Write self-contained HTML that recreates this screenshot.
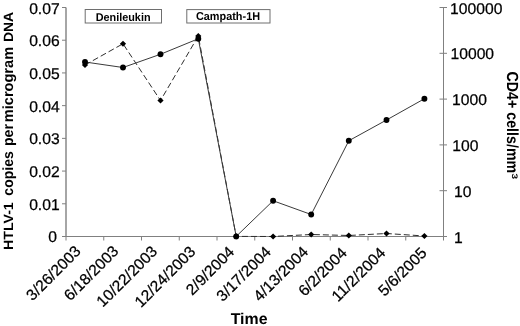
<!DOCTYPE html><html><head><meta charset="utf-8"><title>chart</title><style>html,body{margin:0;padding:0;background:#fff}svg{display:block}text{font-family:"Liberation Sans",Arial,sans-serif;fill:#000;text-rendering:geometricPrecision}.r{stroke:#000;stroke-width:0.25px}</style></head><body>
<svg width="520" height="326" viewBox="0 0 520 326">
<rect width="520" height="326" fill="#fff"/>
<g stroke="#808080" stroke-width="1" fill="none" shape-rendering="auto">
<line x1="66.0" y1="7.5" x2="66.0" y2="236.5" stroke-width="1.4"/>
<line x1="443.5" y1="7.5" x2="443.5" y2="236.5"/>
<line x1="62.0" y1="236.5" x2="447.0" y2="236.5"/>
<line x1="62.0" y1="7.50" x2="66.0" y2="7.50"/>
<line x1="62.0" y1="40.21" x2="66.0" y2="40.21"/>
<line x1="62.0" y1="72.93" x2="66.0" y2="72.93"/>
<line x1="62.0" y1="105.64" x2="66.0" y2="105.64"/>
<line x1="62.0" y1="138.36" x2="66.0" y2="138.36"/>
<line x1="62.0" y1="171.07" x2="66.0" y2="171.07"/>
<line x1="62.0" y1="203.79" x2="66.0" y2="203.79"/>
<line x1="439.5" y1="7.50" x2="447.0" y2="7.50"/>
<line x1="439.5" y1="53.30" x2="447.0" y2="53.30"/>
<line x1="439.5" y1="99.10" x2="447.0" y2="99.10"/>
<line x1="439.5" y1="144.90" x2="447.0" y2="144.90"/>
<line x1="439.5" y1="190.70" x2="447.0" y2="190.70"/>
<line x1="66.00" y1="236.5" x2="66.00" y2="240.5"/>
<line x1="103.75" y1="236.5" x2="103.75" y2="240.5"/>
<line x1="141.50" y1="236.5" x2="141.50" y2="240.5"/>
<line x1="179.25" y1="236.5" x2="179.25" y2="240.5"/>
<line x1="217.00" y1="236.5" x2="217.00" y2="240.5"/>
<line x1="254.75" y1="236.5" x2="254.75" y2="240.5"/>
<line x1="292.50" y1="236.5" x2="292.50" y2="240.5"/>
<line x1="330.25" y1="236.5" x2="330.25" y2="240.5"/>
<line x1="368.00" y1="236.5" x2="368.00" y2="240.5"/>
<line x1="405.75" y1="236.5" x2="405.75" y2="240.5"/>
<line x1="443.50" y1="236.5" x2="443.50" y2="240.5"/>
</g>
<text transform="translate(59.65,13.65) scale(1.011,1)" font-size="15.5" class="r" text-anchor="end">0.07</text>
<text transform="translate(59.65,46.11) scale(1.011,1)" font-size="15.5" class="r" text-anchor="end">0.06</text>
<text transform="translate(59.65,78.83) scale(1.011,1)" font-size="15.5" class="r" text-anchor="end">0.05</text>
<text transform="translate(59.65,111.54) scale(1.011,1)" font-size="15.5" class="r" text-anchor="end">0.04</text>
<text transform="translate(59.65,144.26) scale(1.011,1)" font-size="15.5" class="r" text-anchor="end">0.03</text>
<text transform="translate(59.65,176.97) scale(1.011,1)" font-size="15.5" class="r" text-anchor="end">0.02</text>
<text transform="translate(59.65,209.69) scale(1.011,1)" font-size="15.5" class="r" text-anchor="end">0.01</text>
<text transform="translate(57.0,242.40) scale(1.011,1)" font-size="15.5" class="r" text-anchor="end">0</text>
<text transform="translate(450.05,13.65) scale(1.011,1)" font-size="15.5" class="r">100000</text>
<text transform="translate(450.5,59.45) scale(1.011,1)" font-size="15.5" class="r">10000</text>
<text transform="translate(452,105.25) scale(1.011,1)" font-size="15.5" class="r">1000</text>
<text transform="translate(452.2,151.05) scale(1.011,1)" font-size="15.5" class="r">100</text>
<text transform="translate(454,196.85) scale(1.011,1)" font-size="15.5" class="r">10</text>
<text transform="translate(454,242.65) scale(1.011,1)" font-size="15.5" class="r">1</text>
<text transform="translate(81.78,252.20) rotate(-45) scale(1.011,1)" font-size="15.5" class="r" text-anchor="end">3/26/2003</text>
<text transform="translate(119.53,252.20) rotate(-45) scale(1.011,1)" font-size="15.5" class="r" text-anchor="end">6/18/2003</text>
<text transform="translate(158.28,252.40) rotate(-45) scale(1.011,1)" font-size="15.5" class="r" text-anchor="end">10/22/2003</text>
<text transform="translate(196.43,252.70) rotate(-45) scale(1.011,1)" font-size="15.5" class="r" text-anchor="end">12/24/2003</text>
<text transform="translate(235.28,252.90) rotate(-45) scale(1.011,1)" font-size="15.5" class="r" text-anchor="end">2/9/2004</text>
<text transform="translate(272.02,252.90) rotate(-45) scale(1.011,1)" font-size="15.5" class="r" text-anchor="end">3/17/2004</text>
<text transform="translate(309.07,252.90) rotate(-45) scale(1.011,1)" font-size="15.5" class="r" text-anchor="end">4/13/2004</text>
<text transform="translate(347.82,253.90) rotate(-45) scale(1.011,1)" font-size="15.5" class="r" text-anchor="end">6/2/2004</text>
<text transform="translate(386.38,253.90) rotate(-45) scale(1.011,1)" font-size="15.5" class="r" text-anchor="end">11/2/2004</text>
<text transform="translate(427.72,253.90) rotate(-45) scale(1.011,1)" font-size="15.5" class="r" text-anchor="end">5/6/2005</text>
<text transform="translate(12.9,249.92) rotate(-90) scale(1.0557,1.0)" font-size="13.4" font-weight="bold">HTLV-1</text>
<text transform="translate(12.9,195.66) rotate(-90) scale(1.0474,1.1)" font-size="13.4" font-weight="bold">copies</text>
<text transform="translate(12.9,146.12) rotate(-90) scale(1.0574,1.1)" font-size="13.4" font-weight="bold">per</text>
<text transform="translate(12.9,122.15) rotate(-90) scale(1.0868,1.1)" font-size="13.4" font-weight="bold">microgram</text>
<text transform="translate(12.9,42.00) rotate(-90) scale(1.0358,1.0)" font-size="13.4" font-weight="bold">DNA</text>
<text transform="translate(507,71.5) rotate(90) scale(0.885,1)" font-size="16.1" font-weight="bold">CD4+ cells/mm</text>
<text transform="translate(512.3,173.5) rotate(90) scale(1.25,1)" font-size="8" font-weight="bold">3</text>
<text transform="translate(249.1,324) scale(1.02,1)" font-size="15.6" font-weight="bold" text-anchor="middle">Time</text>
<rect x="85.2" y="9.5" width="76.3" height="13.5" fill="#fff" stroke="#6e6e6e" stroke-width="1"/>
<text transform="translate(123.1,20.7) scale(0.96,1)" font-size="11.3" font-weight="bold" text-anchor="middle">Denileukin</text>
<rect x="186.8" y="9.6" width="83.2" height="13.4" fill="#fff" stroke="#6e6e6e" stroke-width="1"/>
<text transform="translate(228.0,20.1) scale(0.955,1)" font-size="11.4" font-weight="bold" text-anchor="middle">Campath-1H</text>
<polyline points="85.00,65.00 123.00,43.75 160.50,100.50 198.30,36.00 236.20,236.40 273.10,236.50 311.20,234.50 348.80,235.50 386.50,233.50 424.40,236.00" fill="none" stroke="#2e2e2e" stroke-width="1" stroke-dasharray="6,3"/>
<polyline points="85.00,62.00 123.00,67.50 160.50,54.25 198.30,38.75 236.20,236.40 273.10,200.75 311.20,214.50 348.80,140.75 386.50,120.00 424.40,98.75" fill="none" stroke="#3a3a3a" stroke-width="1"/>
<path d="M85.00,61.90 L88.10,65.00 L85.00,68.10 L81.90,65.00 Z" fill="#000"/>
<path d="M123.00,40.65 L126.10,43.75 L123.00,46.85 L119.90,43.75 Z" fill="#000"/>
<path d="M160.50,97.40 L163.60,100.50 L160.50,103.60 L157.40,100.50 Z" fill="#000"/>
<path d="M198.30,32.90 L201.40,36.00 L198.30,39.10 L195.20,36.00 Z" fill="#000"/>
<path d="M236.20,233.30 L239.30,236.40 L236.20,239.50 L233.10,236.40 Z" fill="#000"/>
<path d="M273.10,233.40 L276.20,236.50 L273.10,239.60 L270.00,236.50 Z" fill="#000"/>
<path d="M311.20,231.40 L314.30,234.50 L311.20,237.60 L308.10,234.50 Z" fill="#000"/>
<path d="M348.80,232.40 L351.90,235.50 L348.80,238.60 L345.70,235.50 Z" fill="#000"/>
<path d="M386.50,230.40 L389.60,233.50 L386.50,236.60 L383.40,233.50 Z" fill="#000"/>
<path d="M424.40,232.90 L427.50,236.00 L424.40,239.10 L421.30,236.00 Z" fill="#000"/>
<circle cx="85.00" cy="62.00" r="2.95" fill="#000"/>
<circle cx="123.00" cy="67.50" r="2.95" fill="#000"/>
<circle cx="160.50" cy="54.25" r="2.95" fill="#000"/>
<circle cx="198.30" cy="38.75" r="2.95" fill="#000"/>
<circle cx="236.20" cy="236.40" r="2.95" fill="#000"/>
<circle cx="273.10" cy="200.75" r="2.95" fill="#000"/>
<circle cx="311.20" cy="214.50" r="2.95" fill="#000"/>
<circle cx="348.80" cy="140.75" r="2.95" fill="#000"/>
<circle cx="386.50" cy="120.00" r="2.95" fill="#000"/>
<circle cx="424.40" cy="98.75" r="2.95" fill="#000"/>
</svg></body></html>
